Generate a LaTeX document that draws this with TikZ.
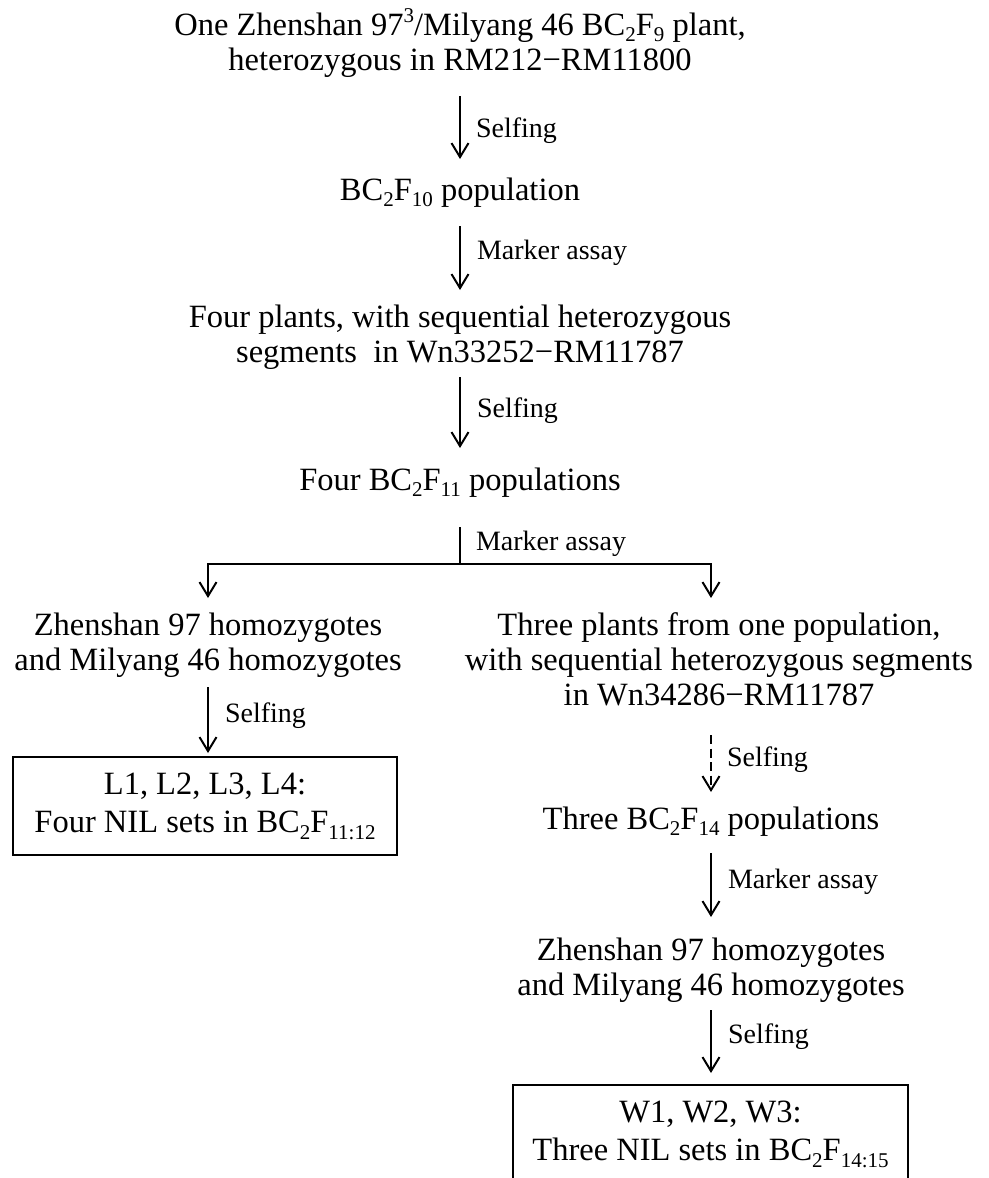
\documentclass[tikz,border=0pt]{standalone}
\usepackage{fontspec}
\setmainfont{Liberation Serif}
\usetikzlibrary{arrows.meta}
\newcommand{\mltxt}[1]{\begin{tabular}[t]{@{}c@{}}#1\end{tabular}}
\newcommand{\sbx}[1]{\raisebox{-0.2em}{\fontsize{21}{21}\selectfont #1}}
\newcommand{\spx}[1]{\raisebox{0.4em}{\fontsize{21}{21}\selectfont #1}}
\tikzset{
  txt/.style={inner sep=0pt, outer sep=0pt, anchor=base, font=\fontsize{32.5}{35}\selectfont},
  lbl/.style={inner sep=0pt, outer sep=0pt, anchor=base west, font=\fontsize{28}{30}\selectfont},
  ln/.style={line width=2pt},
  arr/.style={line width=2pt, -{Straight Barb[length=14pt,width=17pt]}},
  dsh/.style={dash pattern=on 9pt off 4.5pt},
  boxnode/.style={draw, line width=2pt, inner sep=0pt, outer sep=0pt, font=\fontsize{32.5}{38}\selectfont}
}
\begin{document}
\begin{tikzpicture}[x=1pt,y=-1pt]
\path[use as bounding box] (0,0) rectangle (988,1178);
\clip (0,0) rectangle (988,1178);
\fill[white] (0,0) rectangle (988,1178);

% main column
\node[txt] (title) at (460,35) {\mltxt{One Zhenshan 97\spx{3}/Milyang 46 BC\sbx{2}F\sbx{9} plant,\\heterozygous in RM212−RM11800}};
\node[txt] (bc10) at (460,200) {\mltxt{BC\sbx{2}F\sbx{10} population}};
\node[txt] (fp) at (460,327) {\mltxt{Four plants, with sequential heterozygous\\segments\hspace{0.25em} in Wn33252−RM11787}};
\node[txt] (bc11) at (460,490) {\mltxt{Four BC\sbx{2}F\sbx{11} populations}};
\coordinate (split) at (460,564);

% left branch
\node[txt] (lz) at (208,635) {\mltxt{Zhenshan 97 homozygotes\\and Milyang 46 homozygotes}};
\node[boxnode, minimum width=384pt, minimum height=98pt] (lbox) at (205,806) {\mltxt{L1, L2, L3, L4:\\Four NIL sets in BC\sbx{2}F\sbx{11:12}}};

% right branch
\node[txt] (rt) at (719,635) {\mltxt{Three plants from one population,\\with sequential heterozygous segments\\in Wn34286−RM11787}};
\node[txt] (bc14) at (711,829) {\mltxt{Three BC\sbx{2}F\sbx{14} populations}};
\node[txt] (rz) at (711,960) {\mltxt{Zhenshan 97 homozygotes\\and Milyang 46 homozygotes}};
\node[boxnode, minimum width=395pt, minimum height=98pt] (rbox) at (710.5,1134) {\mltxt{W1, W2, W3:\\Three NIL sets in BC\sbx{2}F\sbx{14:15}}};

% connectors
\draw[arr, shorten <=15.5pt, shorten >=16.5pt] (title.south) -- (bc10.north);
\draw[arr, shorten <=15.5pt, shorten >=12.5pt] (bc10.south) -- (fp.north);
\draw[arr, shorten <=4.5pt, shorten >=17.5pt] (fp.south) -- (bc11.north);
\draw[ln, shorten <=26.5pt] (bc11.south) -- (split);
\draw[arr, shorten >=12.5pt] (split) -| (lz.north);
\draw[arr, shorten >=12.5pt] (split) -| ([xshift=-8pt]rt.north);
\draw[arr, shorten <=6.5pt, shorten >=4pt] (lz.south) -- (lz.south |- lbox.north);
\draw[arr, dsh, shorten <=19.5pt, shorten >=12.5pt] (bc14.north |- rt.south) -- (bc14.north);
\draw[arr, shorten <=13.5pt, shorten >=18.5pt] (bc14.south) -- (rz.north);
\draw[arr, shorten <=4.5pt, shorten >=12pt] (rz.south) -- (rz.south |- rbox.north);

% labels
\node[lbl] (s1) at (476,137) {Selfing};
\node[lbl] (m1) at (477,259) {Marker assay};
\node[lbl] (s2) at (477,417) {Selfing};
\node[lbl] (m2) at (476,550) {Marker assay};
\node[lbl] (s3) at (225,722) {Selfing};
\node[lbl] (s4) at (727,766) {Selfing};
\node[lbl] (m3) at (728,888) {Marker assay};
\node[lbl] (s5) at (728,1043) {Selfing};
\end{tikzpicture}
\end{document}
